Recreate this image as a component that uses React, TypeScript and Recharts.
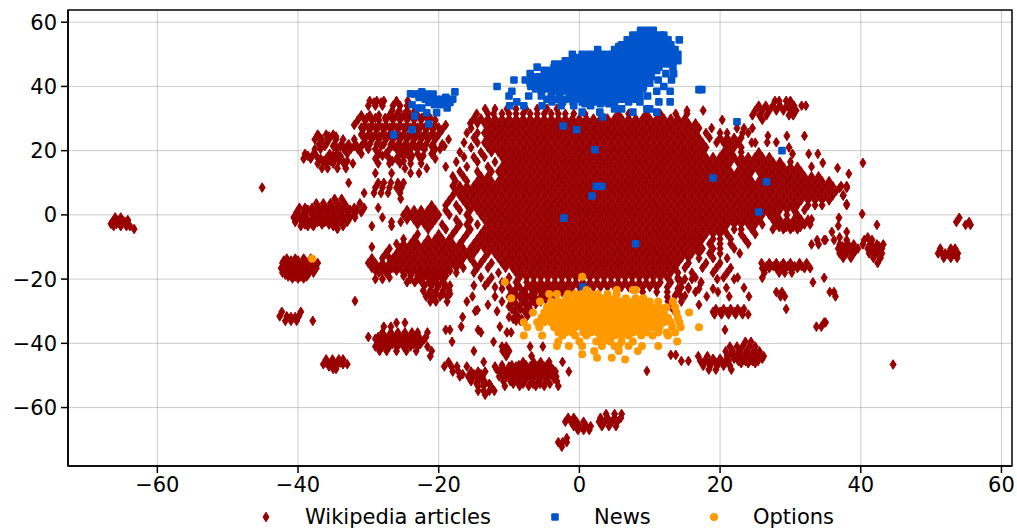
import { ScatterChart, Scatter, XAxis, YAxis, CartesianGrid, Legend, ReferenceArea } from 'recharts'

// each row is [y, x, x, x, ...]
const wikiCoreRows = [
  [33, -13.4, -12, -10.3, -9, -7.6, -6, -4.6, -3.2],
  [31.5, -14.6, -13, -12.2, -11, -10, -9, -8, -7, -6, -5, -4, -3, -2, -0.8, 0.8, 3, 5.5, 7, 9.5, 11.5, 13.7, 15.3],
  [30, -15, -14, -13, -12, -11, -10, -9, -8, -7, -6, -5, -4, -3, -2, -1, 0, 1, 2, 3, 4, 5, 6, 7, 8, 9, 10, 11, 12, 13, 14, 15],
  [28.5, -15.5, -14.5, -13.5, -12.5, -11.5, -10.5, -9.5, -8.5, -7.5, -6.5, -5.5, -4.5, -3.5, -2.5, -1.5, -0.5, 0.5, 1.5, 2.5, 3.5, 4.5, 5.5, 6.5, 7.5, 8.5, 9.5, 10.5, 11.5, 12.5, 13.5, 14.5, 15.5, 16.5],
  [27, -15.4, -13, -12, -11, -10, -9, -8, -7, -6, -5, -4, -3, -2, -1, 0, 1, 2, 3, 4, 5, 6, 7, 8, 9, 10, 11, 12, 13, 14, 15, 16, 17, 18.8],
  [25.5, -16, -14.5, -13.5, -12.5, -11.5, -10.5, -9.5, -8.5, -7.5, -6.5, -5.5, -4.5, -3.5, -2.5, -1.5, -0.5, 0.5, 1.5, 2.5, 3.5, 4.5, 5.5, 6.5, 7.5, 8.5, 9.5, 10.5, 11.5, 12.5, 13.5, 14.5, 15.5, 16.5, 18, 20, 21, 23.2, 24],
  [24, -15, -13, -12, -11, -10, -9, -8, -7, -6, -5, -4, -3, -2, -1, 0, 1, 2, 3, 4, 5, 6, 7, 8, 9, 10, 11, 12, 13, 14, 15, 16, 17, 18.5, 20, 21, 22, 23],
  [22.5, -16.4, -14.5, -13.5, -12.5, -11.5, -10.5, -9.5, -8.5, -7.5, -6.5, -5.5, -4.5, -3.5, -2.5, -1.5, -0.5, 0.5, 1.5, 2.5, 3.5, 4.5, 5.5, 6.5, 7.5, 8.5, 9.5, 10.5, 11.5, 12.5, 13.5, 14.5, 15.5, 16.5, 17.5, 19.5, 20.5, 21.5, 22.5, 24.5, 25],
  [21, -15.4, -13, -12, -11, -10, -9, -8, -7, -6, -5, -4, -3, -2, -1, 0, 1, 2, 3, 4, 5, 6, 7, 8, 9, 10, 11, 12, 13, 14, 15, 16, 17, 18, 21, 22, 23],
  [19.5, -17, -14, -12.5, -11.5, -10.5, -9.5, -8.5, -7.5, -6.5, -5.5, -4.5, -3.5, -2.5, -1.5, -0.5, 0.5, 1.5, 2.5, 3.5, 4.5, 5.5, 6.5, 7.5, 8.5, 9.5, 10.5, 11.5, 12.5, 13.5, 14.5, 15.5, 16.5, 17.5, 20.5, 21.5, 23, 25.5],
  [18, -16.4, -15, -13.5, -11, -10, -9, -8, -7, -6, -5, -4, -3, -2, -1, 0, 1, 2, 3, 4, 5, 6, 7, 8, 9, 10, 11, 12, 13, 14, 15, 16, 17, 18, 19, 20, 21, 22, 23, 24, 25, 26, 27],
  [16.5, -17.5, -14.5, -12, -10.5, -9.5, -8.5, -7.5, -6.5, -5.5, -4.5, -3.5, -2.5, -1.5, -0.5, 0.5, 1.5, 2.5, 3.5, 4.5, 5.5, 6.5, 7.5, 8.5, 9.5, 10.5, 11.5, 12.5, 13.5, 14.5, 15.5, 16.5, 17.5, 18.5, 19.5, 20.5, 21.5, 22.5, 23.5, 24.5, 25.5, 26.5, 27.5, 28.5, 30],
  [15, -19, -16, -13, -11, -10, -9, -8, -7, -6, -5, -4, -3, -2, -1, 0, 1, 2, 3, 4, 5, 6, 7, 8, 9, 10, 11, 12, 13, 14, 15, 16, 17, 18, 19, 20, 21, 23, 24, 25, 26, 27, 28, 29, 30, 31, 33],
  [13.5, -17, -14.5, -12.5, -11.5, -10.5, -9.5, -8.5, -7.5, -6.5, -5.5, -4.5, -3.5, -2.5, -1.5, -0.5, 0.5, 1.5, 2.5, 3.5, 4.5, 5.5, 6.5, 7.5, 8.5, 9.5, 10.5, 11.5, 12.5, 13.5, 14.5, 15.5, 16.5, 17.5, 18.5, 19.5, 20.5, 21.5, 22.5, 23.5, 24.5, 25.5, 26.5, 27.5, 28.5, 29.5, 30.5, 31.5],
  [12, -18, -16.5, -14, -13, -11, -10, -9, -8, -7, -6, -5, -4, -3, -2, -1, 0, 1, 2, 3, 4, 5, 6, 7, 8, 9, 10, 11, 12, 13, 14, 15, 16, 17, 18, 19, 20, 21, 22, 23, 24, 26, 27, 28, 29, 30, 31, 32, 33, 34],
  [10.5, -17.6, -16, -14.5, -13.5, -12.5, -11.5, -10.5, -9.5, -8.5, -7.5, -6.5, -5.5, -4.5, -3.5, -2.5, -1.5, -0.5, 0.5, 1.5, 2.5, 3.5, 4.5, 5.5, 6.5, 7.5, 8.5, 9.5, 10.5, 11.5, 12.5, 13.5, 14.5, 15.5, 16.5, 17.5, 18.5, 19.5, 20.5, 21.5, 22.5, 23.5, 24.5, 25.5, 26.5, 27.5, 28.5, 29.5, 30.5, 31.5, 32.5, 33.5, 34.5, 35.5],
  [9, -18, -17, -16, -15, -14, -13, -12, -11, -10, -9, -8, -7, -6, -5, -4, -3, -2, -1, 0, 1, 2, 3, 4, 5, 6, 7, 8, 9, 10, 11, 12, 13, 14, 15, 16, 17, 18, 19, 20, 21, 22, 23, 24, 25, 26, 27, 28, 29, 30, 31, 32, 33, 34, 35, 36, 37.2, 38],
  [7.5, -17.5, -16.5, -15.5, -14.5, -13.5, -12.5, -11.5, -10.5, -9.5, -8.5, -7.5, -6.5, -5.5, -4.5, -3.5, -2.5, -1.5, -0.5, 0.5, 1.5, 2.5, 3.5, 4.5, 5.5, 6.5, 7.5, 8.5, 9.5, 10.5, 11.5, 12.5, 13.5, 14.5, 15.5, 16.5, 17.5, 18.5, 19.5, 20.5, 21.5, 22.5, 23.5, 24.5, 25.5, 26.5, 27.5, 28.5, 29.5, 30.5, 31.5, 32.5, 33.5, 34.5, 35.5, 36.5],
  [6, -18, -17, -16, -15, -14, -13, -12, -11, -10, -9, -8, -7, -6, -5, -4, -3, -2, -1, 0, 1, 2, 3, 4, 5, 6, 7, 8, 9, 10, 11, 12, 13, 14, 15, 16, 17, 18, 19, 20, 21, 22, 23, 24, 25, 26, 27, 28, 29, 30, 31, 32, 33, 34, 35, 36, 37.5],
  [4.5, -18.5, -16.5, -15.5, -14.5, -13.5, -12.5, -11.5, -10.5, -9.5, -8.5, -7.5, -6.5, -5.5, -4.5, -3.5, -2.5, -1.5, -0.5, 0.5, 1.5, 2.5, 3.5, 4.5, 5.5, 6.5, 7.5, 8.5, 9.5, 10.5, 11.5, 12.5, 13.5, 14.5, 15.5, 16.5, 17.5, 18.5, 19.5, 20.5, 21.5, 22.5, 23.5, 24.5, 25.5, 26.5, 27.5, 28.5, 29.5, 30.5, 31.5, 32.5, 33.5, 34.5, 35.5],
  [3, -21, -19, -17.5, -16, -15, -14, -13, -12, -11, -10, -9, -8, -7, -6, -5, -4, -3, -2, -1, 0, 1, 2, 3, 4, 5, 6, 7, 8, 9, 10, 11, 12, 13, 14, 15, 16, 17, 18, 19, 20, 21, 22, 23, 24, 25, 26, 27, 28, 29, 30, 31, 32.5, 33.5, 34.5, 38],
  [1.5, -24.5, -23.5, -22.5, -21.5, -20.5, -19, -17, -15.5, -14.5, -13.5, -12.5, -11.5, -10.5, -9.5, -8.5, -7.5, -6.5, -5.5, -4.5, -3.5, -2.5, -1.5, -0.5, 0.5, 1.5, 2.5, 3.5, 4.5, 5.5, 6.5, 7.5, 8.5, 9.5, 10.5, 11.5, 12.5, 13.5, 14.5, 15.5, 16.5, 17.5, 18.5, 19.5, 20.5, 21.5, 22.5, 23.5, 24.5, 25.5, 26.5, 27.5, 28.5, 29.5, 30.5, 32],
  [0, -25, -24, -23, -22, -21, -20, -18.5, -16, -14, -13, -12, -11, -10, -9, -8, -7, -6, -5, -4, -3, -2, -1, 0, 1, 2, 3, 4, 5, 6, 7, 8, 9, 10, 11, 12, 13, 14, 15, 16, 17, 18, 19, 20, 21, 22, 23, 24, 25, 26, 27, 28, 29.5, 31],
  [-1.5, -24.5, -23.5, -22.5, -21.5, -20.5, -17.5, -15.5, -13.5, -12.5, -11.5, -10.5, -9.5, -8.5, -7.5, -6.5, -5.5, -4.5, -3.5, -2.5, -1.5, -0.5, 0.5, 1.5, 2.5, 3.5, 4.5, 5.5, 6.5, 7.5, 8.5, 9.5, 10.5, 11.5, 12.5, 13.5, 14.5, 15.5, 16.5, 17.5, 18.5, 19.5, 20.5, 21.5, 22.5, 23.5, 24.5, 25.5, 27.5, 28.5, 29.5, 30.5, 31.5, 32.5],
  [-3, -23, -22, -21, -19.5, -17, -16, -14.5, -13, -12, -11, -10, -9, -8, -7, -6, -5, -4, -3, -2, -1, 0, 1, 2, 3, 4, 5, 6, 7, 8, 9, 10, 11, 12, 13, 14, 15, 16, 17, 18, 19, 20, 21, 22, 23, 24, 25, 26, 28, 29, 30, 31, 32, 32.8],
  [-4.5, -21.5, -19, -17.5, -15.5, -13.5, -12.5, -11.5, -10.5, -9.5, -8.5, -7.5, -6.5, -5.5, -4.5, -3.5, -2.5, -1.5, -0.5, 0.5, 1.5, 2.5, 3.5, 4.5, 5.5, 6.5, 7.5, 8.5, 9.5, 10.5, 11.5, 12.5, 13.5, 14.5, 15.5, 16.5, 17.5, 18.5, 19.5, 20.5, 22, 23, 24.5, 27.5, 29, 30, 31],
  [-6, -23, -20, -18, -16, -14, -13, -12, -11, -10, -9, -8, -7, -6, -5, -4, -3, -2, -1, 0, 1, 2, 3, 4, 5, 6, 7, 8, 9, 10, 11, 12, 13, 14, 15, 16, 17, 18, 19, 20, 21, 23, 25],
  [-7.5, -25, -23.5, -21.5, -20.5, -19.5, -18.5, -16.5, -14.5, -13.5, -12.5, -11.5, -10.5, -9.5, -8.5, -7.5, -6.5, -5.5, -4.5, -3.5, -2.5, -1.5, -0.5, 0.5, 1.5, 2.5, 3.5, 4.5, 5.5, 6.5, 7.5, 8.5, 9.5, 10.5, 11.5, 12.5, 13.5, 14.5, 15.5, 16.5, 17.5, 19, 20, 21.5, 23.5],
  [-9, -26, -25, -24, -23, -22, -21, -20, -19, -18, -17, -15, -14, -13, -12, -11, -10, -9, -8, -7, -6, -5, -4, -3, -2, -1, 0, 1, 2, 3, 4, 5, 6, 7, 8, 9, 10, 11, 12, 13, 14, 15, 16, 17, 18.5, 20, 21.5, 24],
  [-10.5, -27, -25.5, -24.5, -23.5, -22.5, -21.5, -20.5, -19.5, -18.5, -17.5, -16.5, -15.5, -14.5, -13.5, -12.5, -11.5, -10.5, -9.5, -8.5, -7.5, -6.5, -5.5, -4.5, -3.5, -2.5, -1.5, -0.5, 0.5, 1.5, 2.5, 3.5, 4.5, 5.5, 6.5, 7.5, 8.5, 9.5, 10.5, 11.5, 12.5, 13.5, 14.5, 15.5, 16.5, 17.5, 19, 20, 22],
  [-12, -27.5, -26, -25, -24, -23, -22, -21, -20, -19, -18, -17, -16, -15, -13, -12, -11, -10, -9, -8, -7, -6, -5, -4, -3, -2, -1, 0, 1, 2, 3, 4, 5, 6, 7, 8, 9, 10, 11, 12, 13, 14, 15, 16, 17, 18.5, 20, 22.8],
  [-13.5, -29.5, -28, -27, -26.5, -25.5, -24.5, -23.5, -22.5, -21.5, -20.5, -19.5, -18.5, -17.5, -16.5, -15.5, -13.5, -11.5, -10.5, -9.5, -8.5, -7.5, -6.5, -5.5, -4.5, -3.5, -2.5, -1.5, -0.5, 0.5, 1.5, 2.5, 3.5, 4.5, 5.5, 6.5, 7.5, 8.5, 9.5, 10.5, 11.5, 12.5, 13.5, 14.5, 15.5, 17, 19, 21],
  [-15, -30, -29, -28, -27, -26, -25, -24, -23, -22, -21, -20, -19, -18, -17, -15, -14, -12.5, -11, -10, -9, -8, -7, -6, -5, -4, -3, -2, -1, 0, 1, 2, 3, 4, 5, 6, 7, 8, 9, 10, 11, 12, 13, 14, 15.5, 18, 20],
  [-16.5, -29.5, -28.5, -27.5, -26.5, -25.5, -24.5, -23.5, -22.5, -21.5, -20.5, -19.5, -18.5, -17.5, -16.5, -14.5, -13, -10.5, -9.5, -8.5, -7.5, -6.5, -5.5, -4.5, -3.5, -2.5, -1.5, -0.5, 0.5, 1.5, 2.5, 3.5, 4.5, 5.5, 6.5, 7.5, 8.5, 9.5, 10.5, 11.5, 12.5, 13.5, 15, 17.5, 19.5, 21.5],
  [-18, -28.5, -27.5, -25, -24, -23, -22, -21, -20, -19, -17.5, -15, -11.5, -9, -8, -7, -6, -5, -4, -3, -2, -1, 0, 1, 2, 3, 4, 5, 6, 7, 8, 9, 10, 11, 12, 13, 14, 16, 19, 21],
  [-19.5, -27, -22.5, -21.5, -20.5, -19.5, -14, -12.5, -10, -8.5, -7.5, -6.5, -5.5, -4.5, -3.5, -2.5, -1.5, -0.5, 0.5, 1.5, 2.5, 3.5, 4.5, 5.5, 6.5, 7.5, 8.5, 9.5, 10.5, 11.5, 12.5, 14, 16.5, 20.5, 22.5],
  [-21, -24.5, -13, -11, -9, -7.5, -6.5, -5.5, -4.5, -3.5, -2.5, -1.5, -0.5, 0.5, 1.5, 2.5, 3.5, 4.5, 5.5, 6.5, 7.5, 8.5, 9.5, 10.5, 11.5, 13, 14.5, 17.3],
  [-22.5, -12, -10, -8.5, -7, -6, -5, -4, -3, -2, -1, 0, 1, 2, 3, 4, 5, 6, 7, 8, 9, 10, 11, 12.5, 14.5, 15.5],
  [-24, -9.5, -8, -6.5, -5.5, -4.5, -3.5, -2.5, -1.5, 9, 11, 12.5, 14, 16.5],
  [-25.5, -10, -8.5, -7, -5.5, -4.2, 12.5, 14.5],
  [-27, -9.5, -8, -6.8, -5.5, 12.6, 14.5],
  [-28.5, -10, -8.5, -7.2, 13],
  [-30, -9.2, -7.8, 13.5],
  [-31.5, -8.8, -7.4],
  [-33, -9, -8.4],
]

const wikiLeftRows = [
  [35.5, -29.8, -28.8, -27.8, -26, -24.4],
  [34, -30, -29, -28, -26.5, -25.5, -24.5],
  [32.5, -26.6, -25.6, -24.5, -23.4],
  [31, -31, -29.8, -28.5, -27, -26, -25, -24, -23, -22],
  [29.5, -31.5, -30.5, -29.5, -28.5, -27.5, -26.5, -25.5, -24.5, -23.5, -22.5, -21.5, -20.5],
  [28, -32, -30.5, -29.5, -28.5, -27.5, -26.5, -25.5, -24.5, -23.5, -22.5, -21.5, -20.5, -19],
  [26.5, -30.8, -29.8, -28.8, -27.8, -26.8, -25.8, -24.8, -23.8, -22.8, -21.8, -20.8, -19.5],
  [25, -37.2, -36, -35, -31, -30, -29, -28, -27, -26, -25, -24, -23, -22, -21, -20],
  [23.5, -37.6, -36.6, -35.6, -34.6, -33.6, -32, -30.5, -29.5, -28.5, -27.5, -26.5, -25.5, -24.5, -23.5, -22.5, -21.5, -20.5, -18.6],
  [22, -37, -36, -34.8, -33.8, -32.8, -31.8, -30.8, -29.8, -28.8, -27.8, -26.8, -25.8, -24.8, -23.8, -22.8, -21.8, -20.8, -19.5],
  [20.5, -37.6, -36.8, -34.5, -33.5, -32.5, -31.5, -30, -29, -27, -26, -25, -24, -23, -22, -20.5, -19.8],
  [19, -39, -37.8, -35.5, -34.5, -33, -31, -28.5, -27.5, -25.5, -24.5, -23, -21],
  [17.5, -39.2, -38.2, -36.8, -36, -34.8, -33.8, -29, -27, -26, -24, -22.6, -20.5],
  [16, -37.2, -36, -35, -33.5, -32.2, -28.6, -27, -25.5, -24, -22.5],
  [14.5, -36.6, -35.8, -34.4, -33.2, -24.8, -21.7],
  [13, -29, -26.7, -24, -22.8],
  [10, -32.8, -28.6, -27.8, -26.8, -25.8, -25],
  [8.5, -45.1, -29, -28, -27, -26, -25.3],
  [6.8, -30.6, -29.2, -28.2, -27.2, -25.5],
  [5, -34.8, -33.8, -25.4],
  [3.6, -37.4, -36.4, -35.4, -34.4, -33.4, -31.2],
  [2.2, -39.8, -39, -38, -37, -36, -35, -34, -33, -32, -30.6, -28.6],
  [0.8, -40.2, -39.2, -38, -37, -36, -35, -34, -33, -32, -31],
  [-0.8, -66, -65.2, -40.6, -39.6, -38.8, -37.6, -36.6, -35.6, -34.6, -33.6, -32.6, -31.9, -28],
  [-2.2, -66.4, -65.4, -64.6, -40.4, -39.4, -38.4, -37.2, -36.2, -35.2, -34, -33, -26.7, -25.4],
  [-3.5, -66.2, -65.2, -64.4, -63.9, -39.6, -38.6, -37.8, -35, -33.6, -29.5, -26.7],
  [-4.4, -63.3, -34.4],
  [-10, -29.5],
  [-13.6, -41.6, -40.4, -39.2, -38.2],
  [-15, -42.2, -41.2, -40.2, -39.2, -38.2, -37.2],
  [-16.6, -42.4, -41.4, -40.4, -39.4, -38.4, -37.4],
  [-18, -42.2, -41.2, -40.2, -39.2, -38.4, -37.8],
  [-19.2, -41.4, -40.4, -39.6, -38.8],
  [-26.8, -31.9],
  [-30.2, -42.3, -39.6],
  [-31.6, -42.6, -41.6, -39.9],
  [-33, -41.8, -41, -40.2, -37.9],
  [-45, -36, -35.1, -34.2, -33.6],
  [-46.5, -36.4, -35.6, -34.6, -33.6, -33],
  [-48, -35, -34.6],
]

const wikiRightRows = [
  [35.5, 27.8, 28.4, 29.4, 30],
  [34, 25.5, 26.5, 27.5, 28.5, 29.5, 30.5, 31.6, 32.2],
  [32.5, 15.3, 17.6, 25, 26, 27, 28, 29, 30, 30.8],
  [31, 24.6, 25.6, 26.6, 29.8, 30.4],
  [29.6, 20.3, 26],
  [27, 22.4, 24.6, 23.4],
  [24.6, 26.8, 29.5, 32],
  [22.6, 26.7, 28],
  [21, 29.8],
  [19, 30.3, 32.6, 33.9],
  [16.2, 40.3, 34.6],
  [14.6, 36.7],
  [12.8, 38.3],
  [8.4, 37, 38],
  [6.2, 37.5],
  [3.4, 38],
  [0.3, 40.2],
  [-0.9, 36.9, 54],
  [-2.2, 28.4, 53.6, 55.4],
  [-3.1, 42.3, 54.9, 55.6],
  [-3.4, 36.8],
  [-5.3, 35.9, 38],
  [-7, 37, 41],
  [-7.8, 36.2, 33.8, 34.8, 35, 38, 40.5, 41.6],
  [-9.2, 33, 34, 37, 38, 39, 40.3, 41.3, 42.3, 43.2],
  [-10.5, 36.8, 37.8, 38.8, 39.6, 41, 42, 43, 51.3, 52.8, 53.4],
  [-12, 37, 38, 39, 41.2, 42.2, 43, 51, 52, 53, 53.8],
  [-13.4, 37.5, 38.6, 41.8, 42.8, 51.8, 52.8, 53.7],
  [-15, 25.9, 27, 28, 29, 30, 31.3, 32.3, 42.4],
  [-16.6, 26, 27, 28, 29, 30, 31, 32, 32.8],
  [-18, 26.3, 28.4, 29.2, 30.2],
  [-19.6, 26, 34.8],
  [-21, 17.3, 33.2],
  [-22.7, 20.9, 23.4],
  [-24, 19.7, 28, 28.8, 35.6, 36.2],
  [-25.4, 18.1, 21.3, 24.1, 28.6, 29.2, 36.4],
  [-28, 17],
  [-29.3, 19.4, 20.5, 21.5, 22.5, 23.4, 29.4],
  [-31, 19.2, 20.2, 21.2, 22.2, 23.2, 24],
  [-33.5, 34.8, 35],
  [-34.8, 33.7, 34.4],
  [-35.8, 20.7],
  [-39.5, 23.6, 24.4],
  [-41, 21.4, 22.4, 23.2, 24.2, 25],
  [-42.5, 20.8, 21.8, 22.8, 23.8, 24.8, 25.6],
  [-44, 16.9, 18.2, 21, 22, 23, 24, 25, 26.2],
  [-45.5, 14.5, 15.5, 17.2, 18.2, 19.2, 20.2, 21.2, 22.6, 23.6, 24.6, 25.4],
  [-46.6, 44.6],
  [-47, 17.6, 18.6, 19.6, 20.5, 21.4],
  [-48.2, 18.4, 19.4, 21.6],
]

const wikiLowerRows = [
  [-20, -29, -28, -24, -23, -21, -19.5],
  [-22, -22, -21, -20, -19, -18.4, -13.4, -15],
  [-23.6, -22.2, -21.2, -20.4, -19.4, -18.5],
  [-25.4, -21.8, -20.8, -19.8, -18.8, -15.2, -12],
  [-27, -21.2, -20.4, -18.8, -16, -11],
  [-28, -13],
  [-29.6, -14.5],
  [-30, -11.7, -14.8],
  [-31.8, -16.6, -10],
  [-33.6, -26, -24.8],
  [-34.8, -16.8, -27.8, -26.8, -11.3],
  [-35.8, -19, -14.4, -18.4],
  [-36.6, -28, -26.8, -25.8, -24.8, -23.8, -23, -21.6, -14, -10.3, -9.7],
  [-38, -30, -28.6, -27.6, -26.6, -25.6, -24.6, -23.6, -22.8, -21.8],
  [-39.5, -28.4, -27.4, -26.4, -25.4, -24.6, -23.4, -22.4, -18.1, -12.2],
  [-41, -29, -28, -27, -26, -25, -24, -23, -21.6, -11, -10.4, -7, -5.2],
  [-42.4, -28.4, -27.4, -26, -24.6, -23.2, -21, -15, -10.9, -10],
  [-44, -21.2, -10.4, -6.8],
  [-45.8, -18.6, -13.6, -8, -6.5, -5.5, -4.3, -2.4],
  [-47.2, -19.2, -18.2, -17.4, -16, -12, -10, -9, -8, -7, -6, -5, -4.2],
  [-48.8, -18, -17.2, -15.4, -14.4, -13.4, -11.4, -10.4, -9.4, -8.4, -7.4, -6.4, -5.4, -4.4, -3.4, -1.5],
  [-50.3, -17, -15.8, -14.8, -13.8, -11.4, -10.4, -9.4, -8.4, -7.4, -6.4, -5.4, -4.4, -3.3],
  [-51.8, -15.4, -14.4, -13.5, -10.8, -9.8, -8.8, -7.8, -6.8, -5.8, -4.8, -3.2],
  [-53.3, -14.4, -13.6, -12.6, -10.6, -8.5, -7.2, -6.2, -5, -3],
  [-54.8, -14.4, -13.6, -12.8, -12.1],
  [-56, -13.4],
  [-48.6, 9.6],
  [-43.6, 13, 13.7],
  [-62, 3.8, 5, 6],
  [-63.2, -1.6, -0.8, 3, 4, 5, 5.9],
  [-64.4, -2, -1.2, -0.4, 0.6, 2.8, 3.6, 4.6, 5.4],
  [-65.8, -0.8, 0, 1, 1.6, 3.2, 4.2, 5.2],
  [-67, -0.2, 0.6, 1.4],
  [-69.5, -1.8],
  [-70.8, -3, -2.4, -1.8],
  [-72.2, -2.5],
]

// the tighter clusters hold more articles than the rows above show
const wikiDenseRows = [
  [30.2, -30.2, -29, -27.6, -26.4, -25.4, -24.4, -23.4, -22.4, -21.2],
  [27.2, -31, -30, -29, -28, -27, -26, -25, -24, -23, -22, -21, -20],
  [24.4, -37, -35.6, -34.6, -30.6, -29.4, -28.4, -27.4, -26.4, -25.4, -24.4, -23.4, -22.4, -21.4, -20.4],
  [21.4, -36.2, -35, -34, -33, -32, -31, -30.2, -28.2, -26.4, -25.4, -24.4, -23.4, -22.4, -21, -19.2],
  [18.4, -38.6, -37.4, -35, -34, -28, -25, -23.8, -22.2],
  [16.8, -36.4, -35.4, -34.2, -33, -26.6, -25],
  [35, -29.2, -28.2],
  [1.6, -38.6, -37.6, -36.6, -35.6, -34.6, -33.6, -32.6, -31.6],
  [0, -40, -39, -38, -37, -36, -35, -34, -33, -32],
  [-1.6, -40.2, -39, -38, -37, -36, -35, -34, -33],
  [-3, -39, -38, -36.6, -35.6, -34.6],
  [-1.6, -65.8, -65, -64.2],
  [-2.8, -66.6, -65.8, -65, -64.2],
  [-14.2, -42, -41, -40, -39, -38],
  [-15.8, -41.8, -40.8, -39.8, -38.8, -37.8],
  [-17.2, -42, -41, -40, -39, -38],
  [-18.6, -41.8, -40.8, -39.8, -38.6],
  [-19.8, -40.8, -40, -39.2],
  [-31.8, -41, -40.4],
  [-46, -36, -35, -34],
  [-47.2, -35.6, -34.6],
  [-17.4, -29, -28, -27, -26, -24.6, -23.6, -22.6, -21.6, -20.6, -19.6, -18.4],
  [-19, -25, -24, -23, -22, -21, -20, -19],
  [-21, -23.4, -22.4, -21.4, -20.4, -19.4],
  [-24.6, -21.4, -20.4, -19.4, -18.4],
  [-37.4, -28, -27, -26, -25, -24, -23],
  [-38.6, -29, -28, -27, -26, -25, -24, -23, -22],
  [-40.2, -28.6, -27.6, -26.6, -25.6, -24.6, -23.6, -22.6],
  [-46.8, -11, -9.6, -8.6, -7.6, -6.6, -5.6, -4.6],
  [-48, -11.8, -10.8, -9.8, -8.8, -7.8, -6.8, -5.8, -4.8, -3.8],
  [-49.6, -16.6, -15, -14, -11, -10, -9, -8, -7, -6, -5, -4],
  [-51, -15.4, -14.4, -10.6, -9.6, -8.6, -7.6, -6.6, -5.6, -4.6, -3.6],
  [-52.6, -14.6, -13.6, -12.8, -9.4, -8, -6.6, -5.6, -4.2],
  [-43.2, 21.6, 22.6, 23.6, 24.6, 25.6],
  [-44.8, 18, 19, 20, 21, 22, 23, 24, 25, 26],
  [-46.2, 17.6, 18.6, 19.6, 20.6, 23, 24, 25],
  [-30.2, 19, 20, 21, 22, 23],
  [-12.2, 51.6, 52.4, 53.2],
  [-9.8, 37.4, 38.4, 41.6, 42.6],
  [-11.2, 37.6, 38.6, 39.2, 41.6, 42.4],
  [-1.4, 28, 31.4, 33],
  [-3.8, 28.4, 29.4, 30.4, 31.4],
  [-16, 26.6, 27.6, 28.6, 29.6, 30.6, 31.6],
  [-20, 14, 15, 16, 19.6, 22],
  [-23, 14, 15.5, 17, 19],
  [-25.2, 15, 13.6],
  [-23, -11, -9, -7.6, -6, -4.6],
  [-24.8, -9, -7.6, -6.4, -5, -3.6],
  [-26.2, -9.4, -7.6, -6.2, -4.8],
  [-27.8, -9, -7.6, -6.2],
  [-29.4, -9.6, -8.4, -7],
  [-32.4, -9.4, -8.2],
]

const newsRows = [
  [57.5, 8.7, 9.6, 10.5],
  [56, 7.6, 8.5, 9.5, 10.5, 11.5, 12],
  [54.5, 6.8, 7.7, 8.7, 9.7, 10.7, 11.7, 12.6, 14.2],
  [53, 6, 7, 8, 9, 10, 11, 12, 13],
  [51.5, 2.6, 5, 6, 7, 8, 9, 10, 11, 12, 13, 13.6],
  [50, -1, 0.4, 1.4, 2.4, 3.4, 4.4, 5.4, 6.4, 7.4, 8.4, 9.4, 10.4, 11.4, 12.4, 13.4, 14],
  [48, -2, -1, 0, 1, 2, 3, 4, 5, 6, 7, 8, 9, 10, 11, 12, 13, 14],
  [46, -6, -3.6, -2.7, -1.7, -0.7, 0.3, 1.3, 2.3, 3.3, 4.3, 5.3, 6.3, 7.3, 8.3, 9.3, 10.3, 11.3, 13.3],
  [44, -7, -4.6, -3.6, -2.6, -1.6, -0.6, 0.4, 1.4, 2.4, 3.4, 4.4, 5.4, 6.4, 7.4, 8.4, 9.4, 12.3, 13.4],
  [42, -9.3, -7.7, -6.4, -5.4, -4.4, -3.4, -2.4, -1.4, -0.4, 0.6, 1.6, 2.6, 3.6, 4.6, 5.6, 6.6, 7.6, 8.6, 9.6, 11.2, 13.1],
  [40, -11.7, -6.9, -5.9, -4.9, -3.9, -2.9, -1.9, -0.9, 0.1, 1.1, 2.1, 3.1, 4.1, 5.1, 6.1, 7.1, 8.1, 9.1, 12],
  [38.5, -9.6, -5.4, -3.6, -2.6, -1.6, -0.6, 0.4, 1.4, 2.4, 3.4, 4.4, 5.4, 6.4, 7.4, 8.4, 11, 12.9],
  [37, -10, -7.2, -5.4, -4, -2.8, -1.4, -0.4, 0.6, 1.6, 2.6, 3.6, 4.6, 5.6, 6.6, 7.6, 8.6, 9.7],
  [35.2, -8.9, -3.9, -2.4, -0.9, 0.4, 2, 3.4, 5, 7, 8.6, 11.3, 12.9],
  [34, -9.9, -7.9, -5.3, -2.6, -0.8, 1.6],
  [33, 5, 6, 9.6, 10],
  [32, 0.4, 2.9, 7.6, 11],
  [30.5, 3.3],
  [39, 17, 17.4],
  [29, 22.4],
  [20, 28.8],
  [11.5, 19],
  [10.3, 26.6],
  [0.9, 25.5],
  [27.7, -2.3],
  [26.5, -0.4],
  [20.3, 2.2],
  [8.9, 2.4, 3.2],
  [5.9, 1.8],
  [-1, -2.2],
  [-9, 8],
  [-22.5, 0.5],
  [24.9, -26.4],
  [26.5, -23.8],
  [28.3, -21.4],
  [30.8, -23.4],
  [34.3, -23.8, -20.6, -19.8],
  [33.3, -23, -22.4, -18.8],
  [31.8, -21.7, -20.3],
  [37.7, -24, -22.7],
  [38.3, -17.7, -22.4],
  [36, -21.9, -21.1, -20.3, -19.5, -18.7, -18],
  [35, -21.4, -20.6, -19.8, -19, -18.4],
  [55, 8, 9, 10, 11, 12],
  [52.4, 5.6, 6.6, 7.6, 8.6, 9.6, 10.6, 11.6, 12.6],
  [49, -0.5, 0.5, 1.5, 2.5, 3.5, 4.5, 5.5, 6.5, 7.5, 8.5, 9.5, 10.5, 11.5, 12.5, 13.5],
  [47, -3.5, -2.5, -1.5, -0.5, 0.5, 1.5, 2.5, 3.5, 4.5, 5.5, 6.5, 7.5, 8.5, 9.5, 10.5, 11.5, 12.5],
  [45, -5, -4, -3, -2, -1, 0, 1, 2, 3, 4, 5, 6, 7, 8, 9, 10, 11],
  [43, -6.8, -5.8, -4.8, -3.8, -2.8, -1.8, -0.8, 0.2, 1.2, 2.2, 3.2, 4.2, 5.2, 6.2, 7.2, 8.2, 9.2, 10.2],
  [41, -7, -6, -5, -4, -3, -2, -1, 0, 1, 2, 3, 4, 5, 6, 7, 8, 9, 10],
  [39.2, -6.2, -5, -4, -3, -2, -1, 0, 1, 2, 3, 4, 5, 6, 7, 8, 9],
  [36, -4.6, -3.4, -2, -1, 0, 1, 2, 3, 4, 5, 6, 7, 8],
  [34.6, 0.8, 3, 4.2],
  [37.6, -23.4, -21.6, -20.8],
  [36.6, -22.8, -21.4, -19],
]

const optionsRows = [
  [-13.7, -38],
  [-19.3, 0.4],
  [-20.9, -10.6],
  [-23.4, 1, 5.3, 7.6, 8],
  [-24.6, -4.3, -3.2, -1.6, -0.6, 0.4, 1.6, 2.6, 4, 5.3],
  [-26, -9.7, -1.9, -0.9, 0.1, 1.1, 2.1, 3.1, 4.1, 5.1, 6.6, 8, 9.1],
  [-27, -5.6, -4, -3, -2, -1, 0, 1, 2, 3, 4, 5, 6, 7, 8, 9, 10, 11.2, 13.3],
  [-28.8, -4.6, -3.6, -2.6, -1.6, -0.6, 0.4, 1.4, 2.4, 3.4, 4.4, 5.4, 6.4, 7.4, 8.4, 9.4, 10.4, 11.4, 12.4, 13.6],
  [-30.4, -6.6, -5, -4, -3, -2, -1, 0, 1, 2, 3, 4, 5, 6, 7, 8, 9, 10, 11, 12, 13.8, 15.6],
  [-32, -5.4, -4.4, -3.4, -2.4, -1.4, -0.4, 0.6, 1.6, 2.6, 3.6, 4.6, 5.6, 6.6, 7.6, 8.6, 9.6, 10.6, 11.6, 12.6, 14],
  [-33.4, -7.9, -6, -5, -4, -3, -2, -1, 0, 1, 2, 3, 4, 5, 6, 7, 8, 9, 10, 11, 12, 13, 14.2],
  [-35, -7.4, -5.7, -3.6, -2.6, -1.6, -0.6, 0.4, 1.4, 2.4, 3.4, 4.4, 5.4, 6.4, 7.4, 8.4, 9.4, 10.4, 11.4, 13.2, 14.4, 17],
  [-36.6, -3, -2, -1, 0.6, 1.6, 2.6, 3.6, 4.6, 5.6, 6.6, 7.6, 8.6, 9.6, 11.2, 12.4, 13.6],
  [-37.6, -7.9, -5.3, -2.4, -0.6, 1, 3, 4, 5, 6, 7, 8.8, 10.4, 12.6],
  [-39.4, -3, 0, 2.4, 3.4, 4.4, 6, 7.6, 13.9],
  [-40.8, -3.2, -1.5, 0.4, 3.2, 5, 5.6, 7, 8.9, 11.2],
  [-42.4, 2.1, 5.6, 8.3],
  [-43.4, 0.4],
  [-44.5, 2.5, 4.6],
  [-45, 6.5],
]

const xTicks = [-60, -40, -20, 0, 20, 40, 60]
const yTicks = [-60, -40, -20, 0, 20, 40, 60]
const legendNames = ['Wikipedia articles', 'News', 'Options']
const RED = '#990000'
const BLUE = '#0055cc'
const ORANGE = '#ff9900'

const toPoints = (rows: number[][]) =>
  rows.flatMap(([y, ...xs]) => xs.map((x) => ({ x, y })))

const wikiPoints = [wikiCoreRows, wikiLeftRows, wikiRightRows, wikiLowerRows, wikiDenseRows].flatMap(toPoints)
const newsPoints = toPoints(newsRows)
const optionsPoints = toPoints(optionsRows)

const fmt = (v: number) => String(v).replace('-', '\u2212')

function Diamond({ cx, cy }: any) {
  return (
    <path
      d={`M${cx},${cy - 4.8}L${cx + 3},${cy}L${cx},${cy + 4.8}L${cx - 3},${cy}Z`}
      fill={RED}
      stroke={RED}
      strokeWidth={1}
      strokeLinejoin="round"
    />
  )
}

function Square({ cx, cy }: any) {
  return <rect x={cx - 3.8} y={cy - 3.8} width={7.6} height={7.6} rx={1.2} fill={BLUE} />
}

function Dot({ cx, cy }: any) {
  return <circle cx={cx} cy={cy} r={4} fill={ORANGE} />
}

function ChartLegend() {
  const style = { fontFamily: 'DejaVu Sans', fontSize: 21, fill: '#000' }
  return (
    <svg width={1017} height={26} style={{ display: 'block' }}>
      <Diamond cx={266} cy={14} />
      <text x={305} y={21} style={style}>{legendNames[0]}</text>
      <Square cx={555} cy={14} />
      <text x={594} y={21} style={style}>{legendNames[1]}</text>
      <Dot cx={714} cy={14} />
      <text x={753} y={21} style={style}>{legendNames[2]}</text>
    </svg>
  )
}

export default function App() {
  const tick = { fontFamily: 'DejaVu Sans', fontSize: 21, fill: '#000' }
  return (
    <div style={{ position: 'absolute', left: 0, top: 0 }}>
      <ScatterChart width={1017} height={529} margin={{ top: 10, right: 5, bottom: 0, left: 0 }}>
        <XAxis
          type="number"
          dataKey="x"
          domain={[-72.7, 61.5]}
          ticks={xTicks}
          tickFormatter={fmt}
          tick={tick}
          tickSize={7}
          tickMargin={4}
          height={37}
          interval={0}
          stroke="#000"
          strokeWidth={1.5}
        />
        <YAxis
          type="number"
          dataKey="y"
          domain={[-78.2, 63.8]}
          ticks={yTicks}
          tickFormatter={fmt}
          tick={tick}
          tickSize={7}
          tickMargin={4}
          width={68}
          interval={0}
          stroke="#000"
          strokeWidth={1.5}
        />
        <Scatter data={wikiPoints} shape={Diamond} isAnimationActive={false} />
        <Scatter data={newsPoints} shape={Square} isAnimationActive={false} />
        <Scatter data={optionsPoints} shape={Dot} isAnimationActive={false} />
        <CartesianGrid stroke="rgba(128,128,128,0.4)" syncWithTicks />
        <ReferenceArea x1={-72.7} x2={61.5} y1={-78.2} y2={63.8} fill="none" stroke="#000" strokeWidth={1.5} />
        <Legend verticalAlign="bottom" content={ChartLegend} wrapperStyle={{ left: 0, bottom: 0, width: 1017, height: 26 }} />
      </ScatterChart>
    </div>
  )
}
